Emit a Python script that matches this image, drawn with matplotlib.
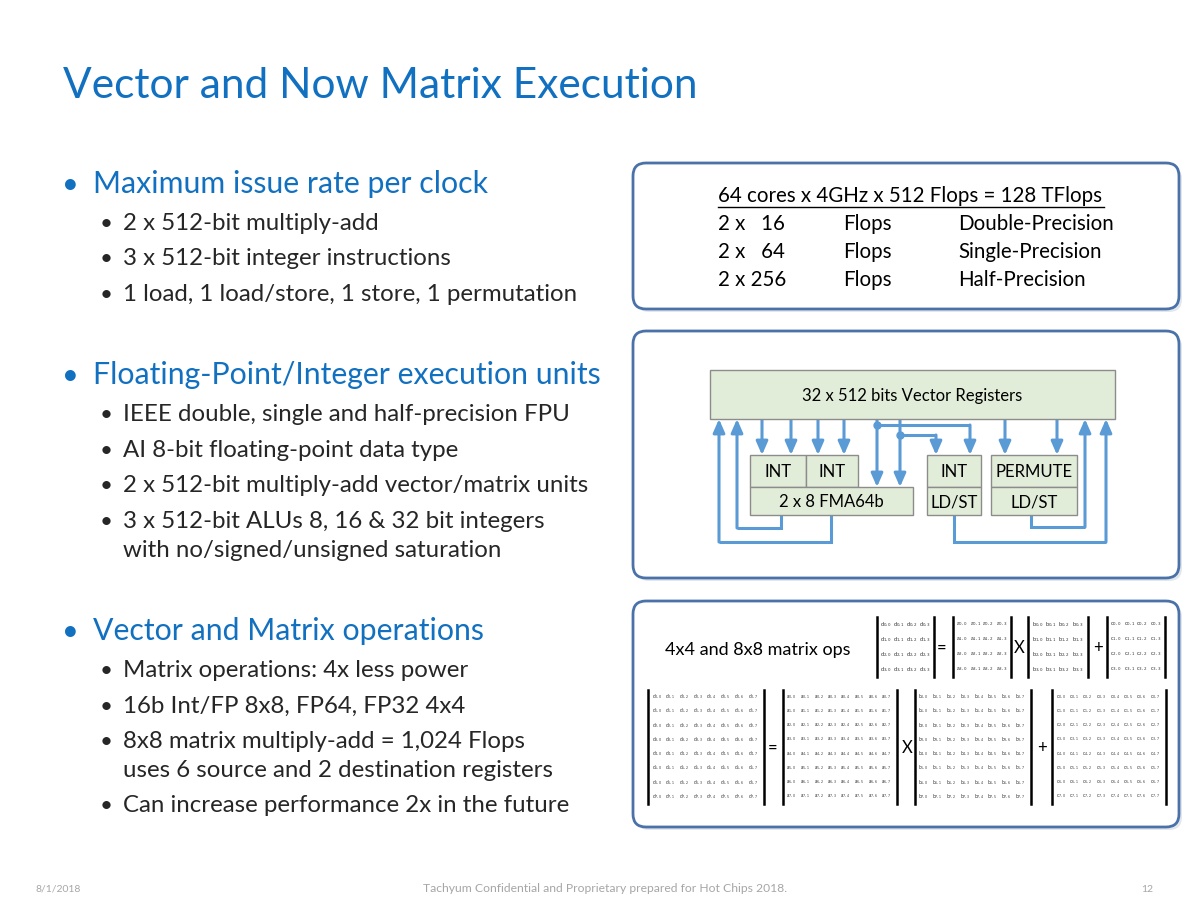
import matplotlib
matplotlib.use('Agg')
import matplotlib.pyplot as plt
from matplotlib.patches import FancyBboxPatch, Rectangle

plt.rcParams['font.family'] = ['Lato', 'DejaVu Sans']

# ---- slide text ----
title = 'Vector and Now Matrix Execution'
sections = ['Maximum issue rate per clock',
            'Floating-Point/Integer execution units',
            'Vector and Matrix operations']
section_items = [
    ['2 x 512-bit multiply-add',
     '3 x 512-bit integer instructions',
     '1 load, 1 load/store, 1 store, 1 permutation'],
    ['IEEE double, single and half-precision FPU',
     'AI 8-bit floating-point data type',
     '2 x 512-bit multiply-add vector/matrix units',
     '3 x 512-bit ALUs 8, 16 & 32 bit integers\nwith no/signed/unsigned saturation'],
    ['Matrix operations: 4x less power',
     '16b Int/FP 8x8, FP64, FP32 4x4',
     '8x8 matrix multiply-add = 1,024 Flops\nuses 6 source and 2 destination registers',
     'Can increase performance 2x in the future'],
]

flops_header = '64 cores x 4GHz x 512 Flops = 128 TFlops'
flops_mult = ['2 x   16', '2 x   64', '2 x 256']
flops_unit = ['Flops', 'Flops', 'Flops']
flops_prec = ['Double-Precision', 'Single-Precision', 'Half-Precision']

register_label = '32 x 512 bits Vector Registers'
unit_labels = ['INT', 'INT', '2 x 8 FMA64b', 'INT', 'LD/ST', 'PERMUTE', 'LD/ST']

matrix_caption = '4x4 and 8x8 matrix ops'
matrix_names = ['d', 'a', 'b', 'c']
matrix_ops = ['=', 'X', '+']

footer_date = '8/1/2018'
footer_mid = 'Tachyum Confidential and Proprietary prepared for Hot Chips 2018.'
footer_page = '12'

BLUE = '#1170C0'
DARK = '#262626'
LINE = '#5B9BD5'
GREEN = '#E2EDD9'
BORDER = '#4A72A8'

fig = plt.figure(figsize=(12, 9), dpi=100)
ax = fig.add_axes([0, 0, 1, 1])
ax.set_xlim(0, 1200)
ax.set_ylim(900, 0)
ax.axis('off')

# title
ax.text(63, 98, title, color=BLUE, fontsize=30.5, va='baseline', ha='left')

# bullets
sec_y = [193, 384, 640]
item_y = [[230, 265, 301], [421, 457, 492, 528], [677, 713, 748, 812]]
for s, ys, items, iys in zip(sections, sec_y, section_items, item_y):
    ax.text(62, ys, '\u2022', color=BLUE, fontsize=21, va='baseline')
    ax.text(93, ys, s, color=BLUE, fontsize=21.8, va='baseline')
    for it, iy in zip(items, iys):
        ax.text(100, iy, '\u2022', color=DARK, fontsize=16, va='baseline')
        for k, line in enumerate(it.split('\n')):
            ax.text(123, iy + 29 * k, line, color=DARK, fontsize=17.3, va='baseline')


def panel(x, y, w, h):
    ax.add_patch(FancyBboxPatch((x + 3, y + 3), w, h,
                                boxstyle='round,pad=0,rounding_size=13',
                                fc='#D0D7E2', ec='none', alpha=0.6))
    ax.add_patch(FancyBboxPatch((x, y), w, h,
                                boxstyle='round,pad=0,rounding_size=13',
                                fc='white', ec=BORDER, lw=2))


panel(633, 163, 546, 146)
panel(633, 331, 546, 247)
panel(633, 601, 546, 226)

# flops table
ax.text(718, 202, flops_header, color='black', fontsize=14.8, va='baseline')
ax.plot([718, 1104], [206.5, 206.5], color='black', lw=1)
for k in range(3):
    yy = 230 + 28 * k
    ax.text(718, yy, flops_mult[k], fontsize=14.8, va='baseline')
    ax.text(843, yy, flops_unit[k], fontsize=14.8, va='baseline')
    ax.text(958, yy, flops_prec[k], fontsize=14.8, va='baseline')

# execution unit diagram
def box(x, y, w, h, label):
    ax.add_patch(Rectangle((x, y), w, h, fc=GREEN, ec='#8C8C8C', lw=1, zorder=3))
    ax.text(x + w / 2, y + h / 2 + 1, label, ha='center', va='center',
            fontsize=12, zorder=4)


box(710, 370, 405, 49, register_label)
unit_rects = [(750, 455, 56, 32), (806, 455, 52, 32), (750, 487, 163, 28),
              (927, 455, 54, 32), (927, 487, 54, 28),
              (991, 455, 86, 32), (991, 487, 86, 28)]
for (x, y, w, h), lab in zip(unit_rects, unit_labels):
    box(x, y, w, h, lab)


def arrow(pts):
    xs = [p[0] for p in pts]
    ys = [p[1] for p in pts]
    ax.plot(xs[:-1], ys[:-1], color=LINE, lw=2.2, solid_capstyle='butt',
            solid_joinstyle='miter', zorder=2)
    ax.annotate('', xy=pts[-1], xytext=pts[-2],
                arrowprops=dict(arrowstyle='-|>,head_length=0.8,head_width=0.35',
                                color=LINE, lw=2.2, shrinkA=0, shrinkB=0),
                zorder=2)


for x in [762, 791, 818, 844, 1005, 1057]:
    arrow([(x, 419), (x, 455)])
for x in [877, 900]:
    arrow([(x, 419), (x, 487)])
arrow([(877, 425), (970, 425), (970, 455)])
arrow([(900, 435), (936, 435), (936, 455)])
ax.plot([877, 900], [425, 435], 'o', color=LINE, ms=5, zorder=2)
arrow([(831, 515), (831, 542), (719, 542), (719, 419)])
arrow([(781, 515), (781, 528), (737, 528), (737, 419)])
arrow([(954, 515), (954, 542), (1106, 542), (1106, 419)])
arrow([(1031, 515), (1031, 527), (1085, 527), (1085, 419)])

# matrix ops
ax.text(665, 655, matrix_caption, fontsize=13, va='baseline')


def matrix(name, x0, x1, y0, y1, n, fs):
    ax.plot([x0, x0], [y0, y1], color='black', lw=1.8)
    ax.plot([x1, x1], [y0, y1], color='black', lw=1.8)
    dx = (x1 - x0 - 6) / n
    dy = (y1 - y0) / n
    for i in range(n):
        for j in range(n):
            ax.text(x0 + 3.5 + dx * j, y0 + dy * (i + 0.5),
                    name + '$_{%d,%d}$' % (i, j), fontsize=fs,
                    va='center', ha='left', color='#333333')


small_bars = [(877, 934), (953, 1011), (1028, 1088), (1107, 1165)]
small_ops_x = [942, 1019, 1098]
for nm, (a, b) in zip(matrix_names, small_bars):
    matrix(nm, a, b, 617, 677, 4, 4.1)
for op, x in zip(matrix_ops, small_ops_x):
    ax.text(x, 648, op, ha='center', va='center', fontsize=12)

big_bars = [(648, 764), (783, 897), (915, 1031), (1052, 1166)]
big_ops_x = [773, 907, 1042]
for nm, (a, b) in zip(matrix_names, big_bars):
    matrix(nm, a, b, 690, 804, 8, 3.4)
for op, x in zip(matrix_ops, big_ops_x):
    ax.text(x, 748, op, ha='center', va='center', fontsize=12)

# footer
ax.text(35, 892, footer_date, color='#A6A6A6', fontsize=7.5, va='baseline')
ax.text(605, 892, footer_mid, color='#A6A6A6', fontsize=8.7, va='baseline', ha='center')
ax.text(1153, 892, footer_page, color='#A6A6A6', fontsize=7.5, va='baseline', ha='right')

fig.savefig('out.png', dpi=100)
